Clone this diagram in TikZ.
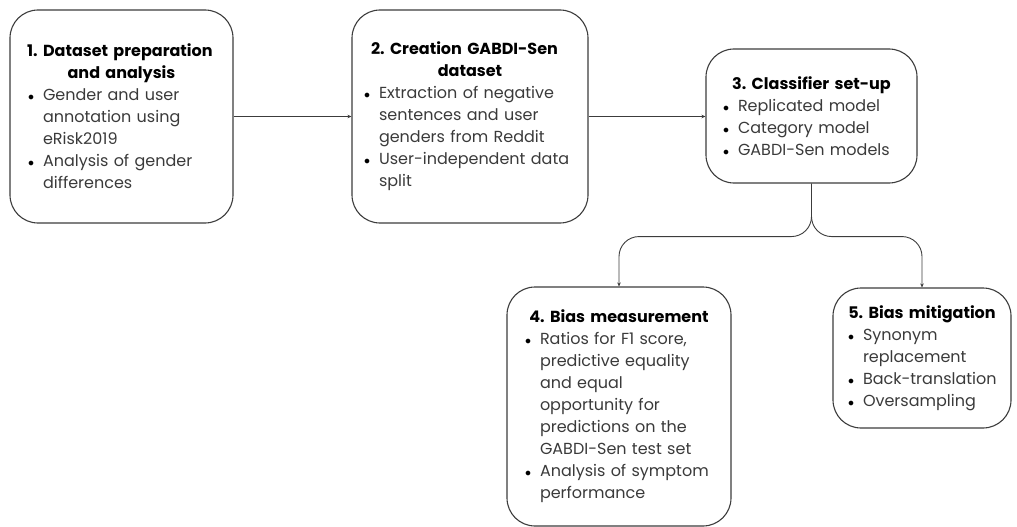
\documentclass[tikz,border=0pt]{standalone}
\usepackage{fontspec}
\setmainfont{Poppins}
\usetikzlibrary{arrows.meta,positioning}

\definecolor{linegray}{HTML}{3C3C3C}
\definecolor{bodygray}{HTML}{3A3A3A}

\hyphenpenalty=10000
\exhyphenpenalty=10000
\frenchspacing

\newenvironment{pts}
  {\begin{list}{\color{black}\fontsize{12}{12}\selectfont$\bullet$}{\leftmargin=19pt\labelwidth=10pt\labelsep=9pt
     \itemsep=0pt\parsep=0pt\topsep=0pt\partopsep=0pt}}
  {\end{list}}
\newcommand{\hdr}[1]{{\centering\fontsize{16}{22}\selectfont\bfseries\color{black}#1\par}}

\tikzset{
  stage/.style={draw=linegray, line width=1.1pt, rounded corners=28pt,
    inner sep=0pt, align=left, text=bodygray, font=\fontsize{16}{22}\selectfont},
  flow/.style={draw=linegray, line width=0.9pt, -{Stealth[length=4pt,width=3.5pt]}},
}

\begin{document}
\begin{tikzpicture}[x=1pt, y=-1pt]
  \useasboundingbox (0,0) rectangle (1017,527);

  % the five stages
  \node[stage, minimum width=223pt, minimum height=213pt, text width=195pt] (prep) at (121.5,116.5)
    {\hdr{1. Dataset preparation\newline and analysis}
     \begin{pts}
     \item Gender and user\newline annotation using\newline eRisk2019
     \item Analysis of gender\newline differences
     \end{pts}};
  \node[stage, minimum width=236pt, minimum height=213pt, text width=220pt] (creation) at (470,116.5)
    {\hdr{2. Creation GABDI-Sen\newline dataset}
     \begin{pts}
     \item Extraction of negative\newline sentences and user\newline genders from Reddit
     \item User-independent data\newline split
     \end{pts}};
  \node[stage, minimum width=211pt, minimum height=134pt, text width=185pt] (classifier) at (811.5,116)
    {\hdr{3. Classifier set-up}
     \begin{pts}
     \item Replicated model
     \item Category model
     \item GABDI-Sen models
     \end{pts}};
  \node[stage, minimum width=224pt, minimum height=239pt, text width=196pt] (measure) at (619,406.5)
    {\hdr{4. Bias measurement}
     \begin{pts}
     \item Ratios for F1 score,\newline predictive equality\newline and equal\newline opportunity for\newline predictions on the\newline GABDI-Sen test set
     \item Analysis of symptom\newline performance
     \end{pts}};
  \node[stage, minimum width=178pt, minimum height=140pt, text width=156pt] (mitigate) at (922,358)
    {\hdr{5. Bias mitigation}
     \begin{pts}
     \item Synonym\newline replacement
     \item Back-translation
     \item Oversampling
     \end{pts}};

  % connectors
  \draw[flow] (prep.east) -- (creation.west |- prep.east);
  \draw[flow] (creation.east) -- (classifier.west |- creation.east);
  \draw[flow, rounded corners=20pt] (classifier.south) -- ++(0,53) -| (measure.north);
  \draw[flow, rounded corners=20pt] (classifier.south) -- ++(0,53) -| (mitigate.north);
\end{tikzpicture}
\end{document}
